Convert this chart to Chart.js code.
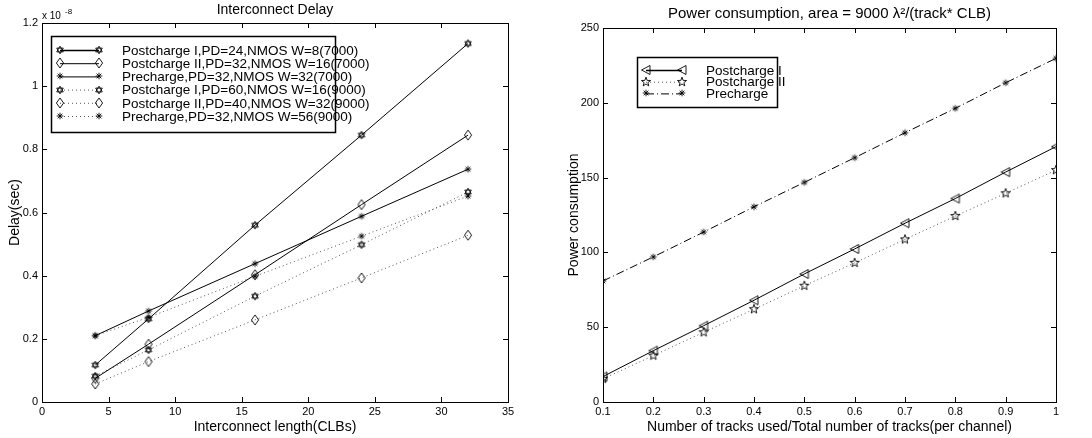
<!DOCTYPE html>
<html>
<head>
<meta charset="utf-8">
<script src="https://cdn.jsdelivr.net/npm/chart.js@4/dist/chart.umd.min.js"></script>
<style>
  body { margin: 0; background: #fff; }
  #wrap { position: relative; width: 1092px; height: 438px; }
  #c1 { position: absolute; left: 0; top: 0; }
  #c2 { position: absolute; left: 546px; top: 0; }
</style>
</head>
<body>
<div id="wrap">
  <canvas id="c1" width="546" height="438"></canvas>
  <canvas id="c2" width="546" height="438"></canvas>
</div>
<script>
// ---- data: left chart (delay, in units of 1e-8 sec) ----
const lengths = [4, 8, 16, 24, 32];
const delayLabels = [
  'Postcharge I,PD=24,NMOS W=8(7000)',
  'Postcharge II,PD=32,NMOS W=16(7000)',
  'Precharge,PD=32,NMOS W=32(7000)',
  'Postcharge I,PD=60,NMOS W=16(9000)',
  'Postcharge II,PD=40,NMOS W=32(9000)',
  'Precharge,PD=32,NMOS W=56(9000)'
];
const delayPost1_7000 = [0.117, 0.263, 0.560, 0.845, 1.135];
const delayPost2_7000 = [0.075, 0.183, 0.403, 0.625, 0.845];
const delayPre_7000 = [0.210, 0.288, 0.438, 0.588, 0.737];
const delayPost1_9000 = [0.082, 0.165, 0.335, 0.498, 0.665];
const delayPost2_9000 = [0.057, 0.128, 0.260, 0.393, 0.528];
const delayPre_9000 = [0.210, 0.268, 0.398, 0.525, 0.652];
const delayXTicks = [0, 5, 10, 15, 20, 25, 30, 35];
const delayYTicks = [0, 0.2, 0.4, 0.6, 0.8, 1, 1.2];

// ---- data: right chart (power) ----
const trackRatio = [0.1, 0.2, 0.3, 0.4, 0.5, 0.6, 0.7, 0.8, 0.9, 1.0];
const powerLabels = ['Postcharge I', 'Postcharge II', 'Precharge'];
const powerPost1 = [17.0, 34.3, 51.0, 68.0, 85.6, 102.3, 119.5, 136.0, 153.7, 170.7];
const powerPost2 = [15.5, 31.0, 46.6, 62.0, 77.7, 93.0, 108.7, 124.3, 139.5, 155.0];
const powerPre = [80.9, 97.0, 113.6, 130.5, 146.8, 163.3, 180.0, 196.3, 213.4, 229.7];
const powerXTicks = [0.1, 0.2, 0.3, 0.4, 0.5, 0.6, 0.7, 0.8, 0.9, 1];
const powerYTicks = [0, 50, 100, 150, 200, 250];

const FONT = '"Liberation Sans", Arial, Helvetica, sans-serif';

// marker images (matlab-ish symbols)
function makeMarker(kind) {
  const c = document.createElement('canvas');
  c.width = 12; c.height = 12;
  const g = c.getContext('2d');
  g.strokeStyle = '#000';
  g.lineWidth = 0.9;
  g.translate(6, 6);
  g.beginPath();
  if (kind === 'hex') {
    const r = 3.8;
    for (let t = 0; t < 2; t++) {
      for (let i = 0; i < 3; i++) {
        const a = -Math.PI / 2 + t * Math.PI + i * 2 * Math.PI / 3;
        const px = r * Math.cos(a), py = r * Math.sin(a);
        if (i === 0) g.moveTo(px, py); else g.lineTo(px, py);
      }
      g.closePath();
    }
  } else if (kind === 'pent') {
    for (let i = 0; i < 10; i++) {
      const r = i % 2 === 0 ? 4.8 : 2.0;
      const a = -Math.PI / 2 + i * Math.PI / 5;
      const px = r * Math.cos(a), py = r * Math.sin(a);
      if (i === 0) g.moveTo(px, py); else g.lineTo(px, py);
    }
    g.closePath();
  } else if (kind === 'diamond') {
    g.moveTo(0, -5); g.lineTo(3.6, 0); g.lineTo(0, 5); g.lineTo(-3.6, 0); g.closePath();
  } else if (kind === 'tri') {
    g.moveTo(-4.5, 0); g.lineTo(4, -4.5); g.lineTo(4, 4.5); g.closePath();
  } else if (kind === 'ast') {
    const r = 3.3;
    for (let i = 0; i < 4; i++) {
      const a = i * Math.PI / 4;
      g.moveTo(-r * Math.cos(a), -r * Math.sin(a));
      g.lineTo(r * Math.cos(a), r * Math.sin(a));
    }
  }
  g.stroke();
  return c;
}
const mHex = makeMarker('hex');
const mPent = makeMarker('pent');
const mDia = makeMarker('diamond');
const mTri = makeMarker('tri');
const mAst = makeMarker('ast');

function pts(xs, ys) {
  return xs.map((x, i) => ({ x: x, y: ys[i] }));
}

function series(label, xs, ys, marker, dash, color) {
  return {
    label: label,
    data: pts(xs, ys),
    borderColor: color || '#000',
    borderWidth: 1,
    borderDash: dash,
    pointStyle: marker,
    pointRadius: 5,
    fill: false,
    tension: 0
  };
}

// frame + inward ticks on all four sides, title, legend box
const matlabFrame = {
  id: 'matlabFrame',
  afterDraw(chart, args, opts) {
    const ctx = chart.ctx;
    const a = chart.chartArea;
    const xs = chart.scales.x, ys = chart.scales.y;
    ctx.save();
    ctx.strokeStyle = '#000';
    ctx.lineWidth = 1;
    ctx.strokeRect(Math.round(a.left) + 0.5, Math.round(a.top) + 0.5,
      Math.round(a.right - a.left), Math.round(a.bottom - a.top));
    ctx.beginPath();
    opts.xTicks.forEach(v => {
      const px = Math.round(xs.getPixelForValue(v)) + 0.5;
      ctx.moveTo(px, a.bottom); ctx.lineTo(px, a.bottom - 5);
      ctx.moveTo(px, a.top); ctx.lineTo(px, a.top + 5);
    });
    opts.yTicks.forEach(v => {
      const py = Math.round(ys.getPixelForValue(v)) + 0.5;
      ctx.moveTo(a.left, py); ctx.lineTo(a.left + 5, py);
      ctx.moveTo(a.right, py); ctx.lineTo(a.right - 5, py);
    });
    ctx.stroke();

    // title
    ctx.fillStyle = '#000';
    ctx.font = opts.titleSize + 'px ' + FONT;
    ctx.textAlign = 'center';
    ctx.textBaseline = 'middle';
    ctx.fillText(opts.title, (a.left + a.right) / 2, opts.titleY);
    if (opts.exponent) {
      ctx.textAlign = 'left';
      ctx.font = '10px ' + FONT;
      ctx.fillText('x 10', a.left, 16);
      ctx.font = '8px ' + FONT;
      ctx.fillText('-8', a.left + 23, 12);
    }

    // legend box
    const L = opts.legend;
    ctx.fillStyle = '#fff';
    ctx.fillRect(L.x, L.y, L.w, L.h);
    ctx.lineWidth = 1.5;
    ctx.strokeRect(L.x + 0.5, L.y + 0.5, L.w, L.h);
    ctx.font = L.font + 'px ' + FONT;
    ctx.textAlign = 'left';
    ctx.textBaseline = 'middle';
    chart.data.datasets.forEach((ds, i) => {
      const y = L.row0 + i * L.rowH;
      ctx.beginPath();
      ctx.lineWidth = i < L.boldCount ? 1.5 : 1;
      ctx.strokeStyle = ds.borderColor;
      ctx.setLineDash(ds.borderDash || []);
      ctx.moveTo(L.x0, y + 0.5); ctx.lineTo(L.x1, y + 0.5);
      ctx.stroke();
      ctx.setLineDash([]);
      const img = ds.pointStyle;
      ctx.drawImage(img, Math.round(L.x0 - img.width / 2), Math.round(y - img.height / 2));
      ctx.drawImage(img, Math.round(L.x1 - img.width / 2), Math.round(y - img.height / 2));
      ctx.fillStyle = '#000';
      ctx.fillText(ds.label, L.textX, y + 1);
    });
    ctx.restore();
  }
};

function fmt(v) {
  return String(Number(v.toFixed(2)));
}

function axisOpts(min, max, step, titleText, fixedSize, isX, titlePad) {
  return {
    type: 'linear',
    min: min,
    max: max,
    grid: { display: false, drawTicks: false },
    border: { display: false },
    ticks: {
      stepSize: step,
      color: '#000',
      font: { family: FONT, size: 11 },
      padding: isX ? 3 : 4,
      maxRotation: 0,
      autoSkip: false,
      callback: v => fmt(v)
    },
    title: {
      display: true,
      text: titleText,
      color: '#000',
      font: { family: FONT, size: 14 },
      padding: { top: titlePad, bottom: 2 }
    },
    afterFit: s => {
      if (isX) s.height = fixedSize; else s.width = fixedSize;
    }
  };
}

new Chart(document.getElementById('c1'), {
  type: 'line',
  data: {
    datasets: [
      series(delayLabels[0], lengths, delayPost1_7000, mHex, []),
      series(delayLabels[1], lengths, delayPost2_7000, mDia, []),
      series(delayLabels[2], lengths, delayPre_7000, mAst, []),
      series(delayLabels[3], lengths, delayPost1_9000, mHex, [1, 3], '#555'),
      series(delayLabels[4], lengths, delayPost2_9000, mDia, [1, 3], '#555'),
      series(delayLabels[5], lengths, delayPre_9000, mAst, [1, 3], '#555')
    ]
  },
  options: {
    responsive: false,
    animation: false,
    layout: { padding: { top: 23, right: 38, left: 0, bottom: 0 } },
    scales: {
      x: axisOpts(0, 35, 5, 'Interconnect length(CLBs)', 36, true, 0),
      y: axisOpts(0, 1.2, 0.2, 'Delay(sec)', 42, false, 7)
    },
    plugins: {
      legend: { display: false },
      tooltip: { enabled: false },
      matlabFrame: {
        xTicks: delayXTicks,
        yTicks: delayYTicks,
        title: 'Interconnect Delay',
        titleSize: 14,
        titleY: 10,
        exponent: true,
        legend: { x: 51, y: 36, w: 284, h: 96, row0: 50, rowH: 13.2, x0: 60, x1: 99, textX: 122, font: 13.5, boldCount: 1 }
      }
    }
  },
  plugins: [matlabFrame]
});

new Chart(document.getElementById('c2'), {
  type: 'line',
  data: {
    datasets: [
      series(powerLabels[0], trackRatio, powerPost1, mTri, []),
      series(powerLabels[1], trackRatio, powerPost2, mPent, [1, 3], '#555'),
      series(powerLabels[2], trackRatio, powerPre, mAst, [8, 3, 1, 3])
    ]
  },
  options: {
    responsive: false,
    animation: false,
    layout: { padding: { top: 28, right: 36, left: 0, bottom: 0 } },
    scales: {
      x: axisOpts(0.1, 1, 0.1, 'Number of tracks used/Total number of tracks(per channel)', 36, true, 0),
      y: axisOpts(0, 250, 50, 'Power consumption', 57, false, 20)
    },
    plugins: {
      legend: { display: false },
      tooltip: { enabled: false },
      matlabFrame: {
        xTicks: powerXTicks,
        yTicks: powerYTicks,
        title: 'Power consumption, area = 9000 \u03bb\u00b2/(track* CLB)',
        titleSize: 15,
        titleY: 14,
        exponent: false,
        legend: { x: 91, y: 57, w: 140, h: 50, row0: 70, rowH: 11.7, x0: 100, x1: 136, textX: 160, font: 13.5, boldCount: 1 }
      }
    }
  },
  plugins: [matlabFrame]
});
</script>
</body>
</html>
